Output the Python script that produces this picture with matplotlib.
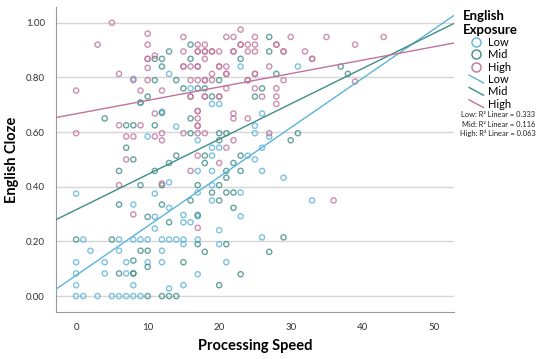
import numpy as np
import matplotlib
matplotlib.use("Agg")
import matplotlib.pyplot as plt
from matplotlib.lines import Line2D
from matplotlib.legend_handler import HandlerBase

plt.rcParams['font.family'] = ['Lato', 'DejaVu Sans']

# Low exposure points (processing speed, cloze)
low_x = [13, 8, 9, 12, 14, 10,
         23, 31, 16, 19, 20, 26, 25, 25, 27, 17, 19, 20, 26, 19, 24, 25,
         0, 13, 11, 8, 13, 11, 11, 1, 6, 8, 9, 10, 12, 13, 14, 2, 6, 12,
         0, 4, 7, 10, 12, 0, 4, 7, 0, 8, 13, 0, 1, 3, 5, 6, 7, 8, 9,
         17, 19, 26, 29, 19, 17, 23, 19, 33, 15, 17, 23, 15, 16, 20, 15, 15,
         17, 20, 26, 21, 17, 15]
low_y = [0.813, 0.795, 0.708, 0.675, 0.62, 0.584,
         0.84, 0.84, 0.76, 0.703, 0.703, 0.668, 0.623, 0.596, 0.583, 0.57, 0.543, 0.543, 0.543, 0.514, 0.514, 0.50,
         0.375, 0.416, 0.375, 0.335, 0.323, 0.29, 0.247, 0.207, 0.207, 0.207, 0.207, 0.207, 0.207, 0.207, 0.207, 0.166, 0.166, 0.166,
         0.124, 0.124, 0.124, 0.124, 0.124, 0.083, 0.083, 0.083, 0.04, 0.04, 0.028, 0.0, 0.0, 0.0, 0.0, 0.0, 0.0, 0.0, 0.0,
         0.458, 0.458, 0.458, 0.433, 0.406, 0.379, 0.379, 0.35, 0.35, 0.297, 0.292, 0.292, 0.27, 0.27, 0.241, 0.207, 0.19,
         0.207, 0.19, 0.215, 0.124, 0.08, 0.04]

# Mid exposure points
mid_x = [11, 12, 13, 12, 11, 14, 10, 9, 12, 4, 7, 8, 11, 7, 8, 14,
         27, 16, 27, 16, 23, 28, 20, 15, 17, 18, 26, 19, 25, 16, 16, 20, 21, 31, 20, 30, 18, 23,
         37, 38,
         6, 11, 13, 9, 12, 6, 12, 10, 13, 0, 5, 9, 10, 8, 8, 10, 6, 8, 10, 12, 13, 14,
         18, 22, 21, 23, 17, 20, 21, 19, 21, 22, 16, 20, 22, 17, 17, 21, 29, 18, 27, 15, 23, 20]
mid_y = [0.868, 0.868, 0.895, 0.84, 0.79, 0.79, 0.73, 0.708, 0.67, 0.65, 0.625, 0.625, 0.625, 0.543, 0.50, 0.514,
         0.948, 0.92, 0.895, 0.868, 0.868, 0.813, 0.79, 0.76, 0.76, 0.76, 0.76, 0.73, 0.73, 0.65, 0.596, 0.596, 0.596, 0.596, 0.57, 0.57, 0.514, 0.514,
         0.84, 0.813,
         0.458, 0.458, 0.487, 0.406, 0.406, 0.335, 0.335, 0.29, 0.27, 0.207, 0.207, 0.166, 0.166, 0.13, 0.083, 0.107, 0.083, 0.083, 0.0, 0.0, 0.0, 0.0,
         0.487, 0.487, 0.458, 0.458, 0.406, 0.406, 0.433, 0.379, 0.379, 0.379, 0.35, 0.35, 0.323, 0.297, 0.19, 0.19, 0.215, 0.162, 0.162, 0.124, 0.08, 0.04]

# High exposure points (repeated entries = overlapping cases)
high_x = [5, 10, 3, 10, 10, 10, 11, 10, 6, 8, 10, 0, 9, 12, 11, 6, 9, 0, 7, 8, 11, 12, 12, 7,
          23, 15, 21, 22, 25, 30, 17, 18, 23, 23, 24, 25, 28, 28,
          15, 17, 17, 18, 18, 19, 19, 20, 22, 22, 24, 25, 29, 29, 32,
          18, 33, 15, 15, 16, 17, 17, 20, 20, 21, 27, 19, 21, 21, 25, 25,
          16, 17, 18, 18, 19, 24, 24, 29, 21, 25, 28, 16, 16, 18, 18, 20, 20, 26, 28, 28,
          17, 17, 22, 17, 22, 24, 17, 17, 15, 17, 18, 27, 22, 21, 17, 20,
          35, 39, 43, 33, 39,
          6, 12, 8, 16, 17, 36]
high_y = [1.00, 0.96, 0.92, 0.92, 0.868, 0.868, 0.88, 0.835, 0.813, 0.79, 0.79, 0.752, 0.752, 0.752, 0.668, 0.625, 0.625, 0.596, 0.584, 0.584, 0.584, 0.596, 0.57, 0.50,
          0.975, 0.948, 0.948, 0.948, 0.948, 0.948, 0.92, 0.92, 0.92, 0.92, 0.92, 0.92, 0.92, 0.92,
          0.895, 0.895, 0.895, 0.895, 0.895, 0.895, 0.895, 0.895, 0.895, 0.895, 0.895, 0.895, 0.895, 0.895, 0.895,
          0.868, 0.868, 0.84, 0.84, 0.84, 0.84, 0.84, 0.84, 0.84, 0.84, 0.84, 0.813, 0.813, 0.813, 0.813, 0.813,
          0.79, 0.79, 0.79, 0.79, 0.79, 0.79, 0.79, 0.79, 0.76, 0.76, 0.76, 0.73, 0.73, 0.73, 0.73, 0.73, 0.73, 0.73, 0.73, 0.703,
          0.677, 0.677, 0.668, 0.65, 0.65, 0.65, 0.623, 0.623, 0.596, 0.596, 0.596, 0.596, 0.57, 0.543, 0.514, 0.487,
          0.948, 0.92, 0.948, 0.868, 0.785,
          0.406, 0.412, 0.299, 0.458, 0.25, 0.35]

groups = ['Low', 'Mid', 'High']
colors = ['#5cb3da', '#3f8d86', '#c0739b']
intercepts = [0.076, 0.316, 0.667]
slopes = [0.0180, 0.0129, 0.0049]
r2 = ['0.333', '0.116', '0.063']

fig = plt.figure(figsize=(5.5, 3.59), dpi=100)
ax = fig.add_axes([0.102, 0.131, 0.723, 0.849])

for xs, ys, c in zip([low_x, mid_x, high_x], [low_y, mid_y, high_y], colors):
    ax.scatter(xs, ys, s=14, facecolors='none', edgecolors=c, linewidths=1.0, alpha=0.8, zorder=3)

xlim = (-2.8, 52.8)
xx = np.array(xlim)
for b0, b1, c in zip(intercepts, slopes, colors):
    ax.plot(xx, b0 + b1 * xx, color=c, lw=1.0, zorder=4)

ax.set_xlim(*xlim)
ax.set_ylim(-0.058, 1.057)
ax.set_xticks([0, 10, 20, 30, 40, 50])
ax.set_yticks([0, 0.2, 0.4, 0.6, 0.8, 1.0])
ax.set_yticklabels(['0.00', '0.20', '0.40', '0.60', '0.80', '1.00'])
ax.tick_params(length=0, labelsize=7, colors='#333333', pad=8)
ax.yaxis.grid(True, color='#d6d6d6', lw=1)
ax.set_axisbelow(True)
for s in ['top', 'right']:
    ax.spines[s].set_visible(False)
for s in ['left', 'bottom']:
    ax.spines[s].set_color('#9a9a9a')
ax.set_xlabel('Processing Speed', fontsize=10.5, fontweight='bold', labelpad=5)
ax.set_ylabel('English Cloze', fontsize=10.5, fontweight='bold', labelpad=5)


class SlantHandler(HandlerBase):
    def create_artists(self, legend, orig_handle, xdescent, ydescent, width, height, fontsize, trans):
        ln = Line2D([-xdescent, width - xdescent], [height, -ydescent],
                    color=orig_handle.get_color(), lw=1.0, transform=trans)
        return [ln]


handles = []
labels = []
for g, c in zip(groups, colors):
    handles.append(Line2D([], [], ls='none', marker='o', markersize=6.5, markerfacecolor='none',
                          markeredgecolor=c, markeredgewidth=1.0))
    labels.append(g)
line_handles = [Line2D([], [], color=c) for c in colors]
handles += line_handles
labels += groups
hmap = {h: SlantHandler() for h in line_handles}
leg = fig.legend(handles, labels, loc='upper left', bbox_to_anchor=(0.827, 0.995), frameon=False,
                 fontsize=8, labelspacing=0.12, handlelength=1.3, handletextpad=0.4,
                 title='English\nExposure', title_fontproperties={'weight': 'bold', 'size': 9.5},
                 handler_map=hmap, borderpad=0.2)
leg._legend_box.align = 'center'

for i, (g, r) in enumerate(zip(groups, r2)):
    fig.text(0.906, 0.681 - i * 0.0265, f'{g}: R\u00b2 Linear = {r}', ha='center', va='center',
             fontsize=5.4, color='#222222')

fig.savefig('out.png', dpi=100)
